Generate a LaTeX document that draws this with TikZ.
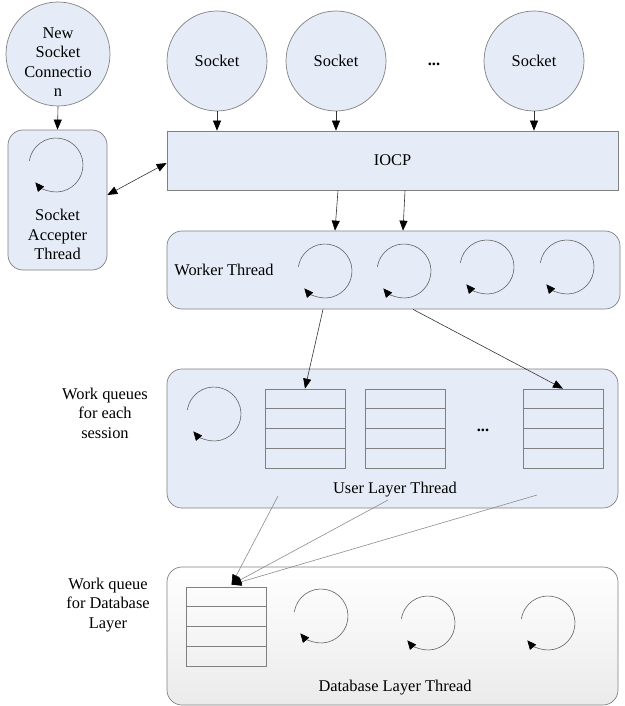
\documentclass[tikz,border=0pt]{standalone}
\usepackage{fontspec}
\setmainfont{Liberation Serif}
\usetikzlibrary{arrows.meta,calc,shapes.geometric}

\definecolor{paleblue}{RGB}{230,236,247}
\definecolor{edgegray}{RGB}{128,128,128}
\definecolor{spingray}{RGB}{100,100,100}

\tikzset{
  tip/.tip={Triangle[length=10pt,width=8pt,color=black]},
  spintip/.tip={Triangle[length=9pt,width=8pt,color=black]},
  panel/.style={draw=edgegray, line width=0.7pt, fill=paleblue, rounded corners=15pt, inner sep=0pt},
  flatpanel/.style={draw=edgegray, line width=0.7pt, fill=paleblue, inner sep=0pt},
  dbpanel/.style={draw=edgegray, line width=0.7pt, top color=white, bottom color=black!8, rounded corners=15pt, inner sep=0pt},
  sock/.style={circle, draw=edgegray, line width=0.7pt, fill=paleblue, inner sep=0pt},
  queuebox/.style={draw=edgegray, line width=0.7pt, inner sep=0pt, minimum width=80pt, minimum height=79pt},
  qline/.style={draw=edgegray, line width=0.7pt},
  lbl/.style={inner sep=0pt, align=center},
  conn/.style={draw=black!80, line width=0.6pt, -tip},
  softconn/.style={draw=black!45, line width=0.6pt, -tip},
  spinner/.pic={
    \draw[spingray, line width=0.6pt, -spintip]
      (-171:27) arc[start angle=-171, end angle=140, radius=27];
  }
}

\begin{document}
\begin{tikzpicture}[x=1pt, y=-1pt, font=\fontsize{16.4}{19.5}\selectfont]
\useasboundingbox (0,0) rectangle (624,706);

% --- connection sources ---------------------------------------------------
\node[sock, minimum size=104pt] (newconn) at (58,54) {};
\node[lbl] (newtxt) at (58,62) {New\\Socket\\Connectio\\n};

\node[sock, minimum size=100pt] (s1) at (217,61) {Socket};
\node[sock, minimum size=100pt] (s2) at (336,61) {Socket};
\node[sock, minimum size=100pt] (s3) at (534,61) {Socket};
\node[lbl] (sdots) at (434,64) {\textbf{...}};

% --- accepter thread ------------------------------------------------------
\node[panel, minimum width=99pt, minimum height=140pt] (accepter) at (57.5,200) {};
\pic at (56,165) {spinner};
\node[lbl] (acctxt) at (57.5,234.5) {Socket\\Accepter\\Thread};

% --- IOCP -----------------------------------------------------------------
\node[flatpanel, minimum width=451pt, minimum height=59pt] (iocp) at (392.5,160.5) {IOCP};

% --- worker threads -------------------------------------------------------
\node[panel, minimum width=453pt, minimum height=78pt] (worker) at (393.5,270) {};
\node[lbl] (workertxt) at (224,270) {Worker Thread};
\pic at (325,271) {spinner};
\pic at (404,271) {spinner};
\pic at (487,267) {spinner};
\pic at (567,267) {spinner};

% --- user layer -----------------------------------------------------------
\node[panel, minimum width=451pt, minimum height=139pt] (user) at (392.5,438.5) {};
\node[lbl] (usertxt) at (395,490) {User Layer Thread};
\node[lbl] (userlbl) at (105,413) {Work queues\\for each\\session};
\pic at (214,414) {spinner};
\node[queuebox] (q1) at (305,428.5) {};
\node[queuebox] (q2) at (405,428.5) {};
\node[queuebox] (q3) at (563,428.5) {};
\node[lbl] (qdots) at (483,430) {\textbf{...}};

% --- database layer -------------------------------------------------------
\node[dbpanel, minimum width=451pt, minimum height=138pt] (db) at (392.5,636) {};
\node[lbl] (dbtxt) at (395,688) {Database Layer Thread};
\node[lbl] (dblbl) at (108,605) {Work queue\\for Database\\Layer};
\node[queuebox] (dbq) at (226.5,626.5) {};
\pic at (321,616) {spinner};
\pic at (428,623) {spinner};
\pic at (548,623) {spinner};

% queue slots
\foreach \q in {q1,q2,q3,dbq}
  \foreach \f in {0.25,0.5,0.75}
    \draw[qline] ($(\q.north west)!\f!(\q.south west)$) -- ($(\q.north east)!\f!(\q.south east)$);

% --- connectors -----------------------------------------------------------
\draw[conn] (newconn.south) -- (accepter.north);
\foreach \s in {s1,s2,s3}
  \draw[conn] (\s.south) -- (\s.south |- iocp.north);
\draw[conn, tip-tip] ([yshift=5pt]accepter.east) -- ([yshift=-2.5pt]iocp.west);

\draw[conn] ([xshift=-54.5pt]iocp.south) -- ([xshift=-58.5pt]worker.north);
\draw[conn] ([xshift=12.5pt]iocp.south) -- ([xshift=9.5pt]worker.north);

\draw[conn] ([xshift=-70.5pt]worker.south) -- (q1.north);
\draw[conn] ([xshift=19.5pt]worker.south) -- (q3.north);

\coordinate (u1) at (278,496);
\coordinate (u2) at (388,500);
\coordinate (u3) at (537,495);
\foreach \u in {u1,u2,u3}
  \draw[softconn] (\u) -- ([xshift=5pt,yshift=2pt]dbq.north);

\end{tikzpicture}
\end{document}
